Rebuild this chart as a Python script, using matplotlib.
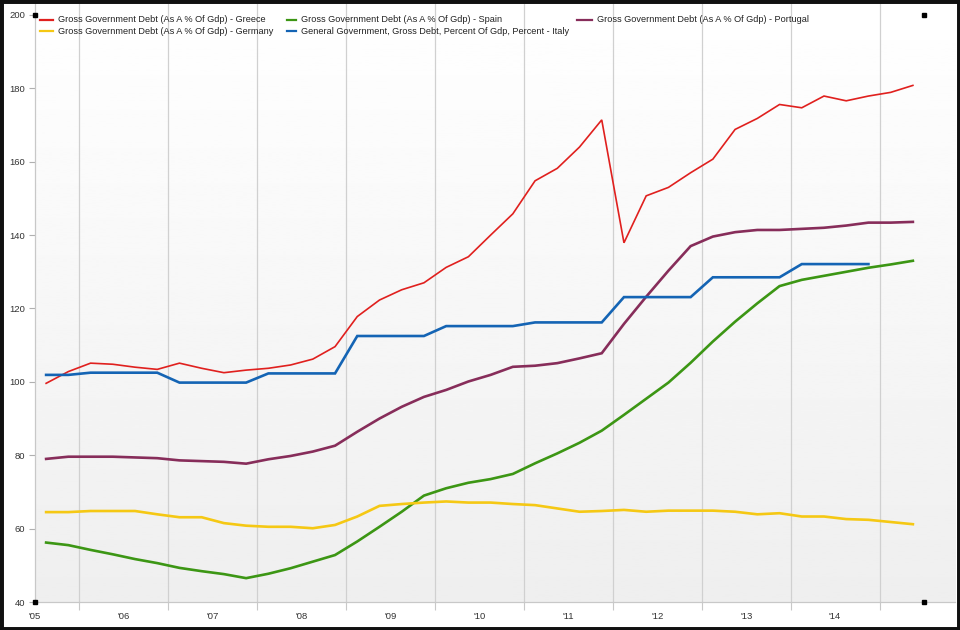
import numpy as np
import matplotlib
matplotlib.use("Agg")
import matplotlib.pyplot as plt
from matplotlib.lines import Line2D
from matplotlib.patches import Rectangle

plt.rcParams['font.family'] = ['Liberation Sans', 'DejaVu Sans']

# quarterly series, 2005Q1 .. 2014Q4
start_year = 2005
greece = [99.6, 102.8, 105.1, 104.8, 104.0, 103.4, 105.1, 103.7, 102.5, 103.2,
          103.7, 104.6, 106.2, 109.6, 117.8, 122.3, 125.1, 127.0, 131.2, 134.1,
          140.0, 145.8, 154.8, 158.2, 164.0, 171.4, 137.9, 150.7, 153.0, 157.0,
          160.7, 168.8, 171.8, 175.6, 174.7, 177.9, 176.6, 177.9, 178.9, 180.8]
spain = [56.2, 55.5, 54.2, 53.0, 51.7, 50.6, 49.3, 48.4, 47.6, 46.5,
         47.7, 49.2, 51.0, 52.8, 56.5, 60.5, 64.6, 69.0, 71.0, 72.5,
         73.5, 74.9, 77.8, 80.5, 83.4, 86.7, 91.0, 95.4, 99.8, 105.2,
         111.0, 116.4, 121.4, 126.1, 127.8, 128.9, 130.0, 131.1, 132.0, 133.0]
portugal = [79.0, 79.6, 79.6, 79.6, 79.4, 79.2, 78.6, 78.4, 78.2, 77.7,
            78.9, 79.8, 81.0, 82.6, 86.4, 90.0, 93.2, 95.9, 97.8, 100.1,
            101.9, 104.1, 104.4, 105.1, 106.4, 107.8, 115.8, 123.2, 130.3, 137.0,
            139.6, 140.8, 141.4, 141.4, 141.7, 142.0, 142.6, 143.4, 143.4, 143.6]
germany = [64.5, 64.5, 64.8, 64.8, 64.8, 63.9, 63.1, 63.1, 61.5, 60.8,
           60.5, 60.5, 60.1, 61.0, 63.3, 66.2, 66.7, 67.1, 67.4, 67.1,
           67.1, 66.7, 66.4, 65.5, 64.6, 64.8, 65.1, 64.6, 64.9, 64.9,
           64.9, 64.6, 63.9, 64.2, 63.3, 63.3, 62.6, 62.4, 61.8, 61.2]
italy = [101.9, 101.9, 102.5, 102.5, 102.5, 102.5, 99.8, 99.8, 99.8, 99.8,
         102.3, 102.3, 102.3, 102.3, 112.5, 112.5, 112.5, 112.5, 115.2, 115.2,
         115.2, 115.2, 116.2, 116.2, 116.2, 116.2, 123.1, 123.1, 123.1, 123.1,
         128.5, 128.5, 128.5, 128.5, 132.1, 132.1, 132.1, 132.1]

series = [
    ("Gross Government Debt (As A % Of Gdp) - Greece", greece, "#e0201e", 1.2),
    ("Gross Government Debt (As A % Of Gdp) - Spain", spain, "#3c9614", 1.9),
    ("Gross Government Debt (As A % Of Gdp) - Portugal", portugal, "#872d5a", 1.9),
    ("Gross Government Debt (As A % Of Gdp) - Germany", germany, "#f5c814", 1.9),
    ("General Government, Gross Debt, Percent Of Gdp, Percent - Italy", italy, "#1464b4", 1.9),
]

year_labels = ["'05", "'06", "'07", "'08", "'09", "'10", "'11", "'12", "'13", "'14"]
y_ticks = [40, 60, 80, 100, 120, 140, 160, 180, 200]

W, H = 960, 630
fig = plt.figure(figsize=(W / 100, H / 100), dpi=100)
fig.patch.set_facecolor("white")
ax = fig.add_axes([35 / W, 28 / H, 920 / W, 598 / H])

# gradient background of the plot area
grad = np.linspace(0.935, 1.0, 256).reshape(-1, 1)
ax.imshow(grad, cmap="gray", vmin=0, vmax=1, aspect="auto",
          extent=[0, 1, 0, 1], transform=ax.transAxes, origin="lower", zorder=0)

for name, vals, col, lw in series:
    xs = start_year + 0.125 + 0.25 * np.arange(len(vals))
    ax.plot(xs, vals, color=col, lw=lw, zorder=3, solid_joinstyle="miter")

ax.set_xlim(2005, 2005 + 920 / 88.9)
ax.set_ylim(40, 40 + 598 / 3.669)

years = np.arange(2005, 2005 + len(year_labels))
ax.set_xticks(years)
ax.set_xticklabels(year_labels)
ax.set_xticks(years + 0.5, minor=True)
ax.tick_params(axis="x", which="major", length=0, pad=7, labelsize=6.8, colors="#333333")
ax.tick_params(axis="x", which="minor", length=6, width=0.8, color="#c8c8c8")
ax.set_yticks(y_ticks)
ax.tick_params(axis="y", length=4, width=0.8, color="#b0b0b0", pad=3, labelsize=6.8,
               labelcolor="#333333")
ax.grid(True, axis="x", which="minor", color="#d0d0d0", lw=0.9, zorder=1)
for s in ["top", "right"]:
    ax.spines[s].set_visible(False)
for s in ["left", "bottom"]:
    ax.spines[s].set_color("#c8c8c8")
    ax.spines[s].set_linewidth(0.9)

# corner handles
ax.plot([2005, 2015, 2005, 2015], [200, 200, 40, 40], "s", color="black", ms=3.5,
        zorder=5, clip_on=False)

# legend, drawn manually in three columns (line x, text x, y) in pixels
legend_pos = [(40, 58, 20), (287, 301, 20), (577, 597, 20), (40, 58, 31), (287, 301, 31)]
for (name, vals, col, lw), (lx, tx, py) in zip(series, legend_pos):
    fig.add_artist(Line2D([lx / W, (tx - 5) / W], [1 - py / H, 1 - py / H],
                          color=col, lw=1.6, transform=fig.transFigure))
    fig.text(tx / W, 1 - py / H, name, fontsize=6.55, color="#222222",
             va="center", ha="left")

# black frame around the picture
fig.add_artist(Rectangle((0, 0), 1, 1, transform=fig.transFigure, fill=False,
                         edgecolor="#111111", lw=5, zorder=10))

fig.savefig("out.png", dpi=100)
